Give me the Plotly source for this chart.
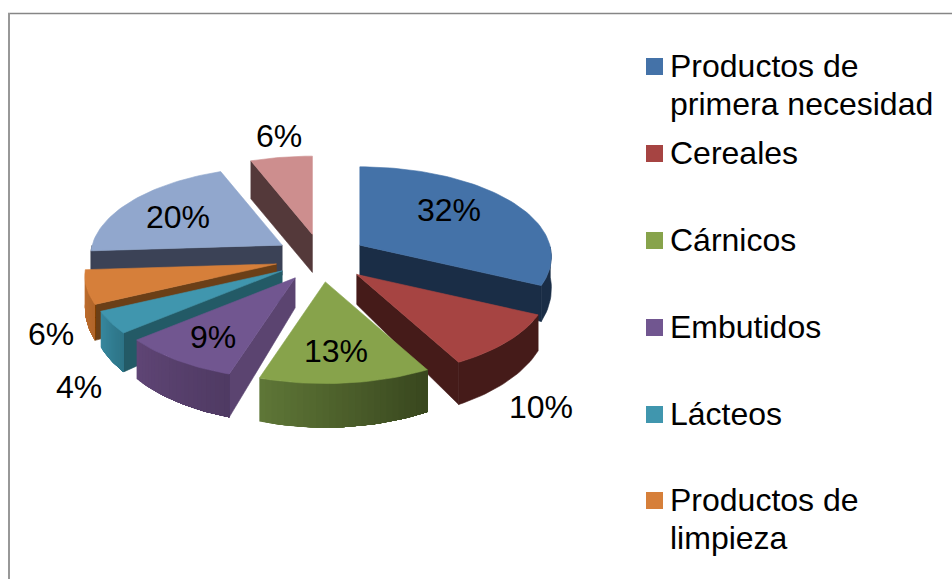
import math
import plotly.graph_objects as go

# ---- data ----
legend_names = [["Productos de", "primera necesidad"], ["Cereales"], ["Cárnicos"], ["Embutidos"],
                ["Lácteos"], ["Productos de", "limpieza"]]
values = [32, 10, 13, 9, 4, 6, 20, 6]
value_labels = ["32%", "10%", "13%", "9%", "4%", "6%", "20%", "6%"]

# ---- styles ----
top_colors = ["#4472a8", "#a64442", "#87a34b", "#715690", "#4096ae", "#d67f3a", "#91a7cd", "#cd8e8e"]
face_colors = ["#1a2d46", "#451b19", "#3f4e24", "#5b4470", "#235a66", "#6b3f17", "#3b4256", "#54393a"]
arc_left = ["#1a2d46", "#451b19", "#5f7737", "#5f4575", "#38889e", "#c4722f", "#3b4256", "#54393a"]
arc_right = ["#1a2d46", "#451b19", "#38461e", "#4f3a63", "#2d7487", "#b0652a", "#3b4256", "#54393a"]
base_depth = [30, 30, 30, 30, 30, 30, 30, 38]
explode_extra = [0, 3, 0, 0, 0, 0, 0, 0]
draw_order = [7, 6, 0, 5, 4, 1, 3, 2]
label_pos = [(449, 210), (541, 407), (336, 351), (213, 337), (79, 387), (51, 334), (178, 217), (279, 136)]
legend_y = [66, 153, 240, 327, 414, 500]
legend_marker_y = [66.5, 153.5, 240.5, 327.5, 414.5, 500.5]
LINE_STEP = 38
FONT = "Liberation Sans"
CX, CY, EX, EY = 321, 258, 46, 24
RX, RY, PERSP = 190, 90, 0.13


def mix(c1, c2, t):
    a = [int(c1[i:i + 2], 16) for i in (1, 3, 5)]
    b = [int(c2[i:i + 2], 16) for i in (1, 3, 5)]
    return "rgb(%d,%d,%d)" % tuple(round(p + (q - p) * t) for p, q in zip(a, b))


def rim(theta):
    """Offset of a rim point from its slice apex on screen."""
    u, v = math.sin(theta), -math.cos(theta)
    s = 1 + PERSP * v
    return RX * u * s, RY * v * s, u, v


def poly(fig, pts, color, lw=0.6):
    fig.add_trace(go.Scatter(x=[p[0] for p in pts] + [pts[0][0]],
                             y=[p[1] for p in pts] + [pts[0][1]],
                             mode="lines", fill="toself", fillcolor=color,
                             line=dict(color=color, width=lw),
                             hoverinfo="skip", showlegend=False))


total = sum(values)
starts, acc = [], 0
for val in values:
    starts.append(acc / total * 2 * math.pi)
    acc += val
ends = starts[1:] + [2 * math.pi]

fig = go.Figure()
for i in draw_order:
    t0, t1 = starts[i], ends[i]
    mid = (t0 + t1) / 2
    ax = CX + (EX + explode_extra[i]) * math.sin(mid)
    ay = CY - EY * math.cos(mid)
    d = base_depth[i]
    n = max(24, int((t1 - t0) / 0.03))
    ths = [t0 + (t1 - t0) * k / n for k in range(n + 1)]

    def top_pt(t):
        dx, dy, _, _ = rim(t)
        return ax + dx, ay + dy

    def bot_pt(t):
        dx, dy, _, v = rim(t)
        return ax + dx, ay + dy + d + 14 * max(v, 0)

    # radial faces
    if math.sin(t0) < -1e-6:
        poly(fig, [(ax, ay), top_pt(t0), bot_pt(t0), (ax, ay + d)], face_colors[i])
    if math.sin(t1) > 1e-6:
        poly(fig, [(ax, ay), top_pt(t1), bot_pt(t1), (ax, ay + d)], face_colors[i])
    # rim, shaded left to right; each band runs under the next so no seams show
    vis = [t for t in ths if -math.cos(t) > -1e-6]
    if len(vis) >= 2:
        if arc_left[i] == arc_right[i]:
            poly(fig, [top_pt(t) for t in vis] + [bot_pt(t) for t in reversed(vis)], arc_left[i])
        else:
            xs = [top_pt(t)[0] for t in vis]
            seq = vis if xs[0] < xs[-1] else list(reversed(vis))
            m = len(seq) - 1
            for k in range(m):
                seg = seq[k:]
                poly(fig, [top_pt(t) for t in seg] + [bot_pt(t) for t in reversed(seg)],
                     mix(arc_left[i], arc_right[i], (k + 0.5) / m), lw=0)
    # top
    poly(fig, [(ax, ay)] + [top_pt(t) for t in ths], top_colors[i])

# legend keys
flat_names = [" ".join(n) for n in legend_names]
for name, y, col in zip(flat_names, legend_marker_y, top_colors):
    fig.add_trace(go.Scatter(x=[654.5], y=[y], mode="markers", name=name,
                             marker=dict(symbol="square", size=17, color=col),
                             hoverinfo="skip", showlegend=False))

ann = []
for text, (x, y) in zip(value_labels, label_pos):
    ann.append(dict(x=x, y=y, text=text, showarrow=False, xanchor="center", yanchor="middle",
                    font=dict(family=FONT, size=32, color="#000000")))
for lines, y in zip(legend_names, legend_y):
    for k, line in enumerate(lines):
        ann.append(dict(x=668, y=y + k * LINE_STEP, text=line, showarrow=False,
                        xanchor="left", yanchor="middle",
                        font=dict(family=FONT, size=32, color="#000000")))

shapes = [
    dict(type="line", x0=8, x1=952, y0=13.5, y1=13.5, line=dict(color="#868686", width=1.5)),
    dict(type="line", x0=9, x1=9, y0=13, y1=579, line=dict(color="#989898", width=2)),
]

fig.update_layout(
    width=952, height=579, margin=dict(l=0, r=0, t=0, b=0),
    paper_bgcolor="white", plot_bgcolor="white", showlegend=False,
    xaxis=dict(range=[0, 952], visible=False, fixedrange=True),
    yaxis=dict(range=[579, 0], visible=False, fixedrange=True),
    annotations=ann, shapes=shapes,
)
fig.write_html("out.html", config={"displayModeBar": False},
               post_script="document.body.style.margin='0';document.body.style.overflow='hidden';")
